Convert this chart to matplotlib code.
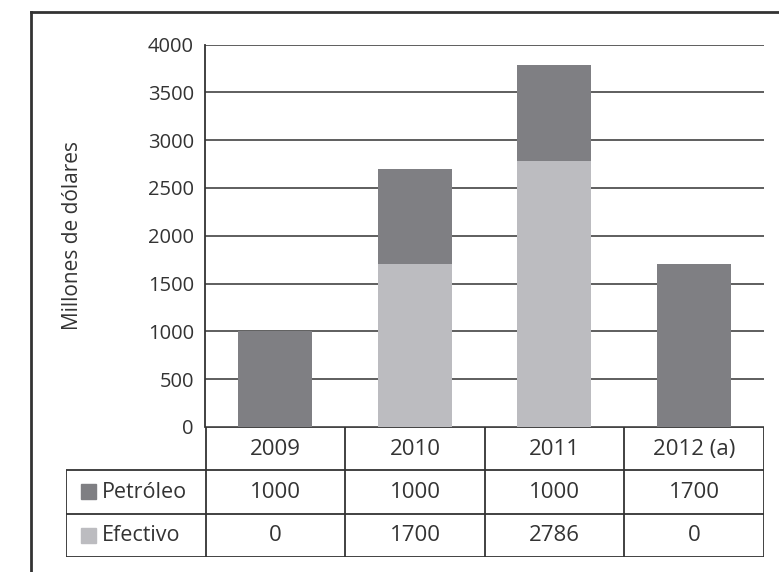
import matplotlib.pyplot as plt
from matplotlib.lines import Line2D
import numpy as np

# data
years = ["2009", "2010", "2011", "2012 (a)"]
petroleo = [1000, 1000, 1000, 1700]
efectivo = [0, 1700, 2786, 0]
series_names = ["Petróleo", "Efectivo"]

dark = "#7f7f83"
light = "#bcbcc0"
ink = "#333333"
W, H = 779, 572

plt.rcParams['font.family'] = ['Open Sans', 'DejaVu Sans']

fig = plt.figure(figsize=(W / 100, H / 100), dpi=100)

def box(x0, y0, x1, y1):
    # pixel box (top-left origin) -> figure fraction rect
    return [x0 / W, 1 - y1 / H, (x1 - x0) / W, (y1 - y0) / H]

# bar chart
ax = fig.add_axes(box(205, 44.5, 764, 427))
x = np.arange(len(years))
ax.bar(x, efectivo, width=0.53, color=light, zorder=3)
ax.bar(x, petroleo, width=0.53, bottom=efectivo, color=dark, zorder=3)
ax.set_xlim(-0.5, 3.5)
ax.set_ylim(0, 4000)
ax.set_yticks(range(0, 4001, 500))
ax.set_xticks([])
ax.tick_params(axis='y', length=0, pad=8, labelsize=14.5, labelcolor=ink)
ax.grid(axis='y', color=ink, linewidth=1.1, zorder=0)
for s in ["top", "right", "bottom"]:
    ax.spines[s].set_visible(False)
ax.spines["left"].set_color(ink)
ax.spines["left"].set_linewidth(1.3)
fig.text(72 / W, 1 - 235 / H, "Millones de dólares", rotation=90,
         ha='center', va='center', fontsize=15, color=ink)

# data table under the bars
tab = fig.add_axes(box(66, 427, 764, 557))
tab.set_xlim(-1.5, 3.5)
tab.set_ylim(0, 3)
tab.axis('off')
lw = 1.3
tab.hlines(3, -0.5, 3.5, color=ink, lw=lw)
tab.hlines([0, 1, 2], -1.5, 3.5, color=ink, lw=lw)
tab.vlines([-0.5, 0.5, 1.5, 2.5, 3.5], 0, 3, color=ink, lw=lw)
tab.vlines(-1.5, 0, 2, color=ink, lw=lw)
for i, yr in enumerate(years):
    tab.text(i, 2.48, yr, ha='center', va='center', fontsize=16, color=ink)
for r, (name, vals, col) in enumerate(zip(series_names, [petroleo, efectivo], [dark, light])):
    yc = 1.5 - r
    tab.add_patch(plt.Rectangle((-1.393, yc - 0.17), 0.107, 0.35, color=col))
    tab.text(-1.24, yc, name, ha='left', va='center', fontsize=15.5, color=ink)
    for i, v in enumerate(vals):
        tab.text(i, yc, str(v), ha='center', va='center', fontsize=16, color=ink)

# outer frame (cut at right and bottom)
fig.add_artist(Line2D([31 / W, 31 / W], [1 - 12 / H, 0], color=ink, lw=2))
fig.add_artist(Line2D([31 / W, 1], [1 - 12 / H, 1 - 12 / H], color=ink, lw=2))

fig.savefig("out.png", dpi=100)
